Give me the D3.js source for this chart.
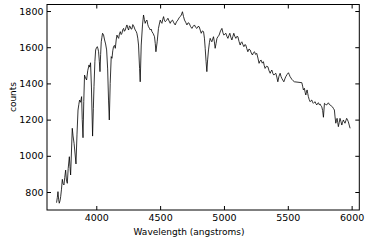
<!DOCTYPE html>
<html>
<head>
<meta charset="utf-8">
<script src="https://cdn.jsdelivr.net/npm/d3@7"></script>
<style>
  html, body { margin: 0; padding: 0; background: #fff; }
  svg { display: block; }
  text { font-family: "DejaVu Sans", sans-serif; fill: #000; }
</style>
</head>
<body>
<svg id="chart" width="366" height="245"></svg>
<script>
// ---- data ----
const wavelength = [
  3689, 3695, 3700, 3705, 3710, 3716, 3721, 3727, 3734, 3740, 3747, 3753, 3760, 3766, 3773, 3780,
  3789, 3794, 3799, 3805, 3812, 3818, 3826, 3834, 3841, 3849, 3857, 3863, 3869, 3877, 3885, 3890,
  3896, 3902, 3908, 3916, 3924, 3933, 3943, 3949, 3955, 3962, 3971, 3977, 3982, 3989, 3995, 4002,
  4008, 4013, 4018, 4024, 4029, 4034, 4039, 4044, 4049, 4057, 4065, 4073, 4081, 4089, 4096, 4102,
  4109, 4117, 4123, 4129, 4135, 4142, 4149, 4156, 4162, 4169, 4175, 4181, 4188, 4195, 4201, 4208,
  4214, 4220, 4227, 4234, 4240, 4247, 4253, 4260, 4266, 4273, 4279, 4286, 4292, 4299, 4305, 4312,
  4318, 4325, 4331, 4339, 4344, 4352, 4362, 4370, 4377, 4383, 4390, 4397, 4403, 4409, 4416, 4423,
  4430, 4436, 4446, 4456, 4462, 4467, 4477, 4487, 4494, 4501, 4508, 4514, 4521, 4527, 4533, 4540,
  4550, 4561, 4570, 4579, 4588, 4597, 4607, 4618, 4628, 4639, 4648, 4657, 4666, 4675, 4683, 4691,
  4700, 4710, 4719, 4728, 4738, 4749, 4759, 4769, 4778, 4788, 4797, 4806, 4814, 4822, 4831, 4840,
  4847, 4853, 4860, 4866, 4872, 4879, 4886, 4892, 4899, 4905, 4912, 4918, 4925, 4931, 4938, 4945,
  4953, 4962, 4973, 4984, 4992, 4999, 5007, 5015, 5023, 5031, 5039, 5046, 5054, 5062, 5070, 5077,
  5085, 5093, 5101, 5109, 5118, 5127, 5134, 5140, 5148, 5156, 5164, 5171, 5179, 5187, 5196, 5205,
  5214, 5223, 5231, 5239, 5248, 5257, 5266, 5275, 5283, 5291, 5300, 5309, 5315, 5322, 5333, 5344,
  5353, 5362, 5369, 5375, 5383, 5390, 5398, 5406, 5414, 5422, 5431, 5440, 5447, 5453, 5461, 5469,
  5477, 5484, 5495, 5505, 5512, 5518, 5525, 5531, 5541, 5552, 5610, 5616, 5622, 5630, 5636, 5641,
  5646, 5651, 5656, 5661, 5668, 5675, 5682, 5688, 5694, 5700, 5707, 5714, 5720, 5727, 5734, 5740,
  5747, 5753, 5760, 5766, 5773, 5779, 5787, 5796, 5805, 5811, 5818, 5825, 5831, 5840, 5849, 5857,
  5865, 5870, 5876, 5881, 5886, 5891, 5896, 5903, 5909, 5916, 5923, 5929, 5935, 5942, 5948, 5955,
  5961, 5968, 5974, 5981, 5988
];
const counts = [
   741,  770,  802,  760,  738,  752,  774,  812,  870,  846,  839,  880,  921,  866,  848,  930,
   995,  940,  894, 1010, 1152, 1110, 1069, 1010,  955, 1120, 1253, 1282, 1308, 1296, 1327, 1200,
  1100, 1300, 1446, 1430, 1419, 1470, 1502, 1490, 1514, 1380, 1109, 1260, 1382, 1520, 1585, 1598,
  1603, 1592, 1575, 1520, 1465, 1560, 1630, 1655, 1677, 1668, 1640, 1618, 1585, 1480, 1308, 1198,
  1400, 1548, 1539, 1580, 1603, 1610, 1594, 1640, 1667, 1655, 1649, 1672, 1686, 1670, 1677, 1698,
  1704, 1688, 1695, 1712, 1723, 1705, 1695, 1718, 1713, 1700, 1701, 1725, 1719, 1706, 1695, 1688,
  1677, 1650, 1612, 1483, 1409, 1612, 1723, 1778, 1752, 1732, 1745, 1750, 1726, 1713, 1705, 1695,
  1700, 1686, 1675, 1658, 1620, 1575, 1630, 1704, 1728, 1750, 1738, 1732, 1755, 1769, 1750, 1741,
  1748, 1760, 1745, 1732, 1745, 1750, 1735, 1723, 1740, 1750, 1762, 1769, 1778, 1796, 1770, 1750,
  1738, 1723, 1735, 1732, 1715, 1704, 1716, 1723, 1710, 1704, 1715, 1713, 1695, 1677, 1690, 1686,
  1650, 1594, 1520, 1465, 1530, 1585, 1625, 1649, 1638, 1630, 1645, 1658, 1630, 1594, 1620, 1649,
  1658, 1667, 1690, 1704, 1680, 1667, 1672, 1677, 1660, 1649, 1665, 1677, 1655, 1640, 1660, 1677,
  1660, 1649, 1660, 1658, 1632, 1612, 1625, 1630, 1615, 1603, 1615, 1612, 1592, 1575, 1590, 1585,
  1568, 1557, 1570, 1575, 1560, 1566, 1540, 1511, 1525, 1529, 1512, 1520, 1500, 1483, 1495, 1492,
  1470, 1456, 1468, 1474, 1455, 1446, 1452, 1456, 1435, 1409, 1440, 1456, 1438, 1428, 1418, 1409,
  1425, 1437, 1450, 1459, 1448, 1437, 1430, 1423, 1415, 1409, 1404, 1385, 1364, 1373, 1350, 1336,
  1352, 1364, 1345, 1327, 1310, 1299, 1305, 1308, 1296, 1290, 1295, 1299, 1288, 1281, 1290, 1293,
  1282, 1286, 1276, 1271, 1250, 1213, 1290, 1284, 1281, 1288, 1293, 1284, 1281, 1276, 1271, 1262,
  1253, 1215, 1180, 1195, 1207, 1185, 1161, 1185, 1207, 1190, 1170, 1185, 1198, 1188, 1180, 1195,
  1207, 1198, 1188, 1170, 1152
];
const xTicks = [4000, 4500, 5000, 5500, 6000];
const yTicks = [800, 1000, 1200, 1400, 1600, 1800];
const xLabel = "Wavelength (angstroms)";
const yLabel = "counts";

// ---- layout ----
const svg = d3.select("#chart");
const mLeft = 47, mRight = 359.3, mTop = 4.5, mBottom = 210;

const x = d3.scaleLinear().domain([3614, 6060]).range([mLeft, mRight]);
const y = d3.scaleLinear().domain([700.6, 1836]).range([mBottom, mTop]);

const n = Math.min(wavelength.length, counts.length);
const points = d3.range(n).map(i => [wavelength[i], counts[i]]);

// spectrum line
const line = d3.line()
  .x(d => x(d[0]))
  .y(d => y(d[1]));

svg.append("path")
  .datum(points)
  .attr("fill", "none")
  .attr("stroke", "#000")
  .attr("stroke-width", 0.8)
  .attr("d", line);

// axes with inward ticks
const tickLen = 4;
const fmt = d3.format("d");
const axB = d3.axisBottom(x).tickValues(xTicks).tickFormat(fmt).tickSizeInner(-tickLen).tickSizeOuter(0).tickPadding(4);
const axT = d3.axisTop(x).tickValues(xTicks).tickSizeInner(-tickLen).tickSizeOuter(0).tickFormat("");
const axL = d3.axisLeft(y).tickValues(yTicks).tickFormat(fmt).tickSizeInner(-tickLen).tickSizeOuter(0).tickPadding(3.5);
const axR = d3.axisRight(y).tickValues(yTicks).tickSizeInner(-tickLen).tickSizeOuter(0).tickFormat("");

function style(g) {
  g.select(".domain").remove();
  g.selectAll(".tick line").attr("stroke", "#000").attr("stroke-width", 1);
  g.selectAll(".tick text").style("font-family", "DejaVu Sans, sans-serif").style("font-size", "9.5px").attr("fill", "#000");
}

svg.append("g").attr("transform", `translate(0,${mBottom})`).call(axB).call(style);
svg.append("g").attr("transform", `translate(0,${mTop})`).call(axT).call(style);
svg.append("g").attr("transform", `translate(${mLeft},0)`).call(axL).call(style);
svg.append("g").attr("transform", `translate(${mRight},0)`).call(axR).call(style);

// frame
svg.append("rect")
  .attr("x", mLeft).attr("y", mTop)
  .attr("width", mRight - mLeft).attr("height", mBottom - mTop)
  .attr("fill", "none").attr("stroke", "#000").attr("stroke-width", 1);

// axis labels
svg.append("text")
  .attr("x", 189).attr("y", 235)
  .attr("text-anchor", "middle")
  .style("font-size", "9px")
  .text(xLabel);

svg.append("text")
  .attr("transform", "translate(16,97) rotate(-90)")
  .attr("text-anchor", "middle")
  .style("font-size", "9px")
  .text(yLabel);
</script>
</body>
</html>
